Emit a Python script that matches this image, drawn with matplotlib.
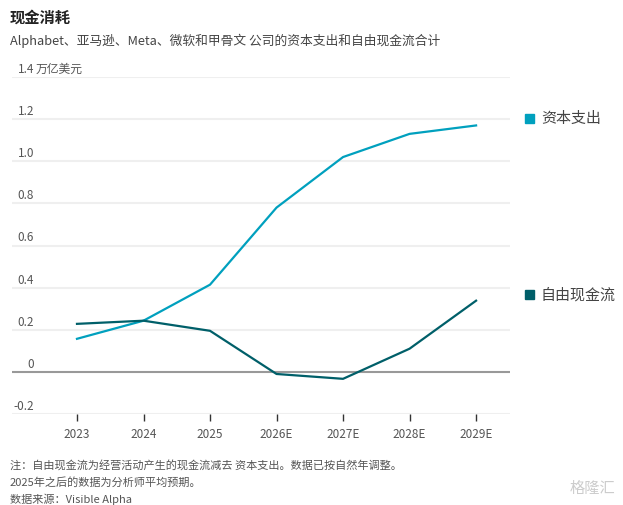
import matplotlib
matplotlib.use("Agg")
import matplotlib.pyplot as plt
from matplotlib.patches import Rectangle

plt.rcParams['font.family'] = ['Noto Sans CJK SC', 'DejaVu Sans']

# 数据（万亿美元），读自原图
years = ['2023', '2024', '2025', '2026E', '2027E', '2028E', '2029E']
capex = [0.157, 0.243, 0.414, 0.78, 1.02, 1.13, 1.17]
fcf = [0.228, 0.243, 0.195, -0.01, -0.033, 0.11, 0.338]
y_ticks = [-0.2, 0, 0.2, 0.4, 0.6, 0.8, 1.0, 1.2, 1.4]
y_labels = ['-0.2', '0', '0.2', '0.4', '0.6', '0.8', '1.0', '1.2', '1.4']
y_unit = '万亿美元'

capex_color = '#00a0be'
fcf_color = '#005f69'
text_gray = '#555555'

fig = plt.figure(figsize=(6.23, 5.06), dpi=100)
ax = fig.add_axes([12 / 623, 1 - 415 / 506, 498 / 623, 337 / 506])

x = list(range(len(years)))

# 网格线
for v in y_ticks:
    if v == 0:
        ax.axhline(v, color='#999999', lw=1.5, zorder=2)
    else:
        ax.axhline(v, color='#efefef', lw=1.5, zorder=1)

ax.plot(x, capex, color=capex_color, lw=1.6, zorder=3)
ax.plot(x, fcf, color=fcf_color, lw=1.6, zorder=3)

ax.set_xlim(-0.977, 6.51)
ax.set_ylim(-0.2, 1.4)
for s in ax.spines.values():
    s.set_visible(False)
ax.set_yticks([])
ax.set_xticks(x)
ax.set_xticklabels(years, fontsize=8.5, color=text_gray)
ax.tick_params(axis='x', length=5, width=1, color='#333333', pad=4)

# y轴标签放在网格线上方，右对齐
lab_x = 22 / 498
for v, lab in zip(y_ticks, y_labels):
    ax.text(lab_x, v + 0.01, lab, transform=ax.get_yaxis_transform(),
            fontsize=8.5, color=text_gray, ha='right', va='bottom')
ax.text(lab_x + 2 / 498, y_ticks[-1] + 0.01, y_unit, transform=ax.get_yaxis_transform(),
        fontsize=8.5, color=text_gray, ha='left', va='bottom')

# 图例
legend_items = [('资本支出', capex_color, 119), ('自由现金流', fcf_color, 295)]
for name, col, ypx in legend_items:
    fig.patches.append(Rectangle((525 / 623, 1 - (ypx + 5) / 506), 9 / 623, 9 / 506,
                                 transform=fig.transFigure, color=col))
    fig.text(541 / 623, 1 - ypx / 506, name, fontsize=10.8, color='#444444',
             ha='left', va='center')

# 标题
fig.text(10 / 623, 1 - 18 / 506, '现金消耗', fontsize=11, fontweight='heavy',
         color='#222222', ha='left', va='center')
fig.text(10 / 623, 1 - 41 / 506, 'Alphabet、亚马逊、Meta、微软和甲骨文 公司的资本支出和自由现金流合计',
         fontsize=9.2, color='#444444', ha='left', va='center')

# 注释
notes = ['注：自由现金流为经营活动产生的现金流减去 资本支出。数据已按自然年调整。',
         '2025年之后的数据为分析师平均预期。',
         '数据来源：Visible Alpha']
for i, n in enumerate(notes):
    fig.text(10 / 623, 1 - (465 + i * 17) / 506, n, fontsize=8, color=text_gray,
             ha='left', va='center')

# 水印
fig.text(615 / 623, 1 - 488 / 506, '格隆汇', fontsize=11, color='#cccccc',
         ha='right', va='center')

fig.savefig('out.png', dpi=100)
